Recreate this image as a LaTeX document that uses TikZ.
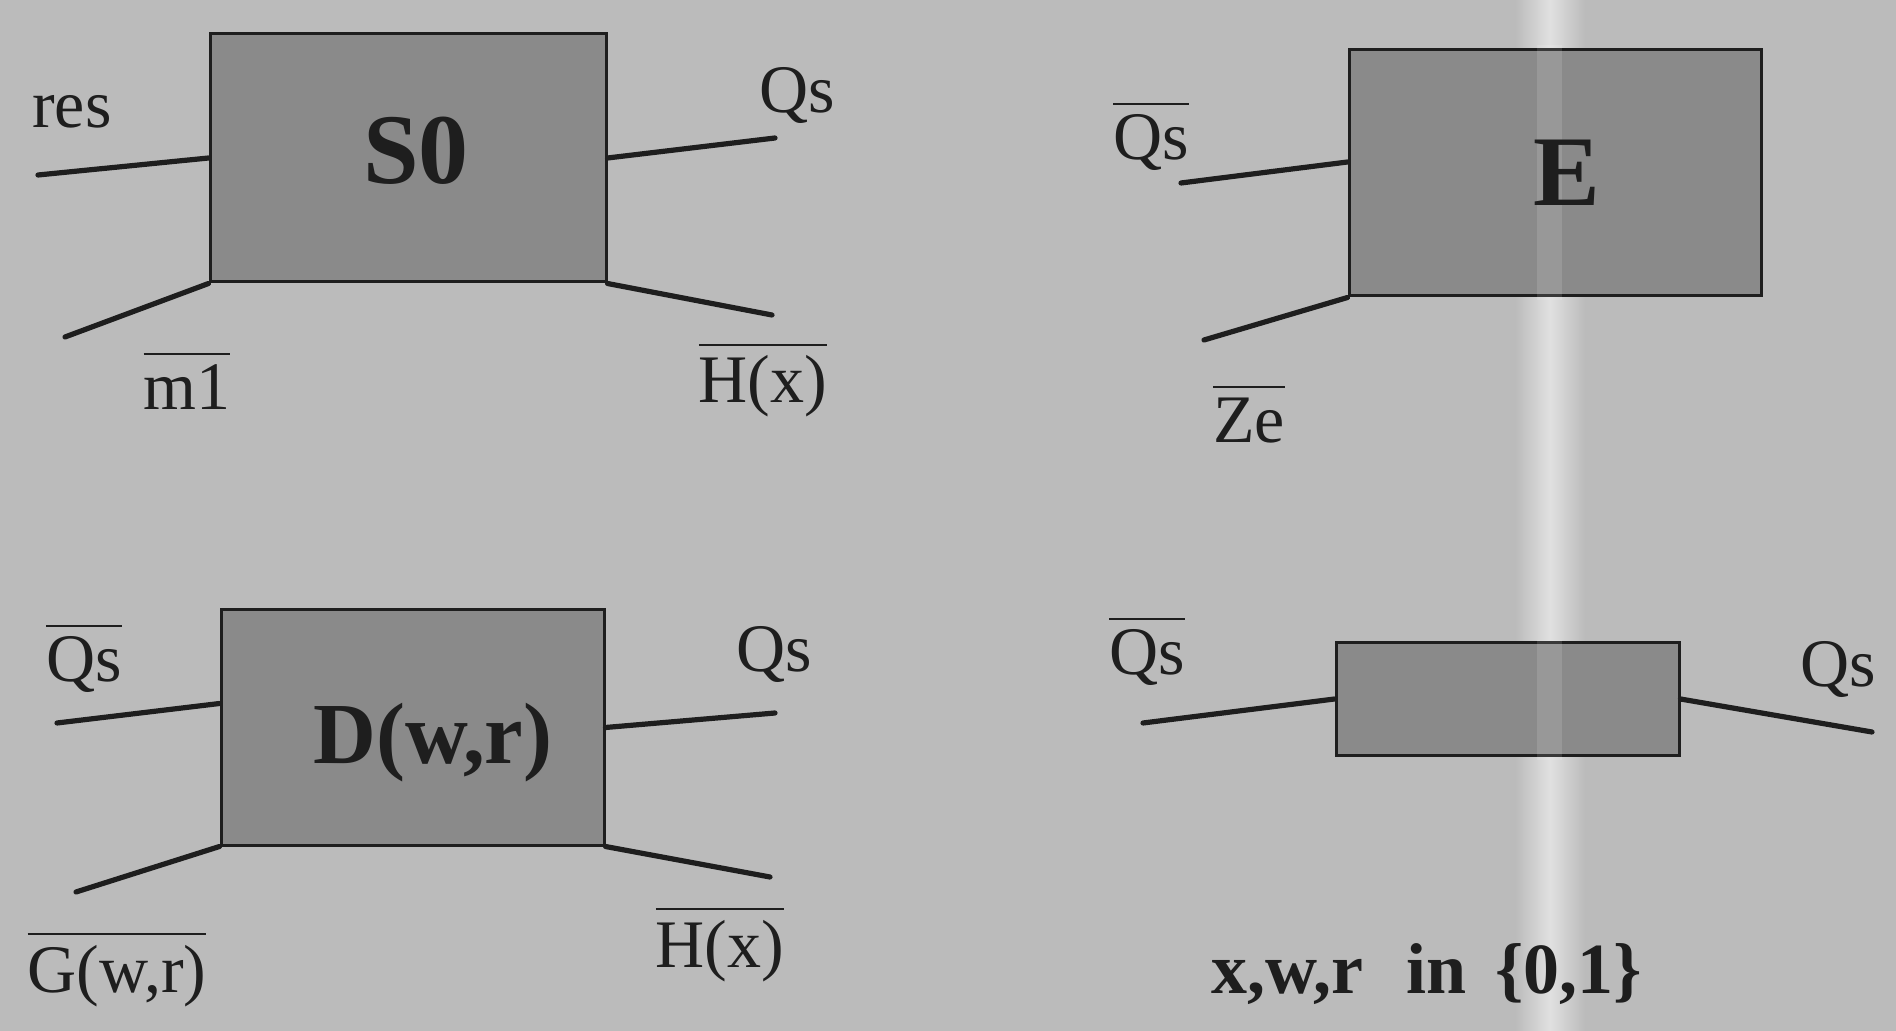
\documentclass[tikz,border=0pt]{standalone}
\usepackage{fontspec}
\setmainfont{Liberation Serif}
\definecolor{bg}{HTML}{BBBBBB}
\definecolor{boxfill}{HTML}{8A8A8A}
\definecolor{ink}{HTML}{1E1E1E}
\newcommand\ovl[1]{\setbox0\hbox{#1}\rlap{\rule[\dimexpr\ht0+5pt\relax]{\wd0}{1.1pt}}\box0}
\begin{document}
\begin{tikzpicture}[x=0.5pt,y=-0.5pt,
  blk/.style={draw=ink,line width=1.5pt,fill=boxfill,inner sep=0pt},
  wire/.style={draw=ink,line width=2.6pt,line cap=round},
  lab/.style={anchor=base,inner sep=0pt,font=\fontsize{34}{40}\selectfont,text=ink},
  big/.style={inner sep=0pt,font=\bfseries\fontsize{50}{60}\selectfont,text=ink}
]
\useasboundingbox (0,0) rectangle (1896,1031);
\fill[bg] (0,0) rectangle (1896,1031);
\shade[left color=bg,right color=bg,middle color=white!55!bg] (1515,0) rectangle (1585,1031);

% boxes
\node[blk,minimum width=198pt,minimum height=124pt] (s0) at (408,158) {};
\node[blk,minimum width=206pt,minimum height=123pt] (e) at (1555,173) {};
\node[blk,minimum width=191.5pt,minimum height=117.5pt] (d) at (412.5,727.5) {};
\node[blk,minimum width=171.5pt,minimum height=56pt] (sb) at (1507.5,699) {};
\fill[white,opacity=0.12] (1537,45) rectangle (1562,300);
\fill[white,opacity=0.12] (1537,640) rectangle (1562,760);

% box texts
\node[big] (s0t) at (416,151) {S0};
\node[big] (et) at (1567,173) {E};
\node[big,font=\bfseries\fontsize{43.5}{52}\selectfont] (dt) at (433,743) {D(w,r)};

% free ends
\coordinate (a1) at (38,175);
\coordinate (a2) at (775,138);
\coordinate (a3) at (65,337);
\coordinate (a4) at (772,315);
\coordinate (b1) at (1181,183);
\coordinate (b2) at (1204,340);
\coordinate (c1) at (57,723);
\coordinate (c2) at (775,713);
\coordinate (c3) at (76,892);
\coordinate (c4) at (770,877);
\coordinate (d1) at (1143,723);
\coordinate (d2) at (1872,732);

% wires
\draw[wire] (s0.west) -- (a1);
\draw[wire] (s0.east) -- (a2);
\draw[wire] (s0.south west) -- (a3);
\draw[wire] (s0.south east) -- (a4);
\draw[wire] ([yshift=5.5pt]e.west) -- (b1);
\draw[wire] (e.south west) -- (b2);
\draw[wire] ([yshift=12pt]d.west) -- (c1);
\draw[wire] (d.east) -- (c2);
\draw[wire] (d.south west) -- (c3);
\draw[wire] (d.south east) -- (c4);
\draw[wire] (sb.west) -- (d1);
\draw[wire] (sb.east) -- (d2);

% labels
\node[lab] (lres) at (72,128) {res};
\node[lab] (lqs1) at (797,113) {Qs};
\node[lab] (lm1) at (187,410) {\ovl{m1}};
\node[lab] (lh1) at (763,403) {\ovl{H(x)}};
\node[lab] (lqs2) at (1151,160) {\ovl{Qs}};
\node[lab] (lze) at (1249,443) {\ovl{Ze}};
\node[lab] (lqs3) at (84,682) {\ovl{Qs}};
\node[lab] (lqs4) at (774,672) {Qs};
\node[lab] (lg) at (117,992) {\ovl{G(w,r)}};
\node[lab] (lh2) at (720,967) {\ovl{H(x)}};
\node[lab] (lqs5) at (1147,675) {\ovl{Qs}};
\node[lab] (lqs6) at (1838,687) {Qs};
\node[lab,font=\bfseries\fontsize{36}{43}\selectfont] (lxwr) at (1427,993) {x,w,r\hspace{0.6em}in\hspace{0.4em}\{0,1\}};
\end{tikzpicture}
\end{document}
